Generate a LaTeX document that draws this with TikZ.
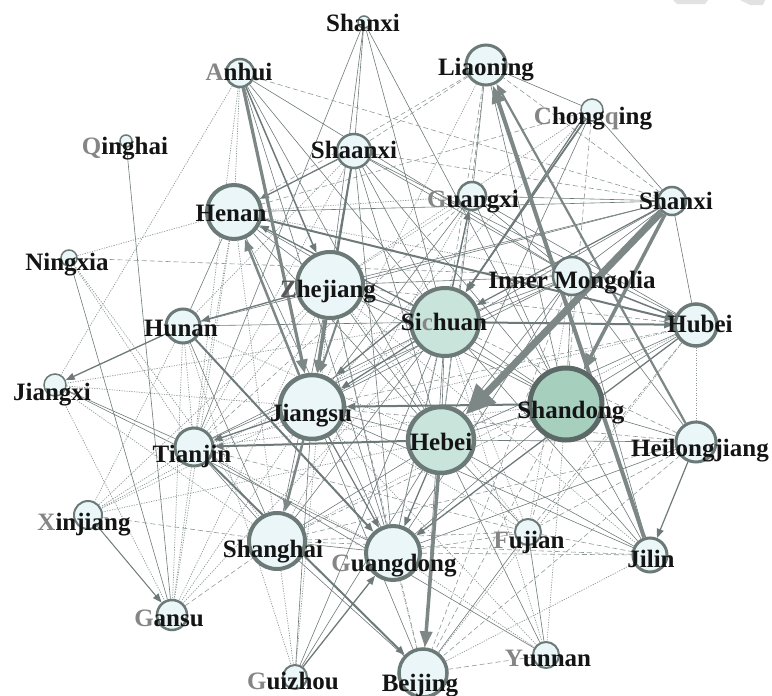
\documentclass[tikz,border=0pt]{standalone}
\usepackage{fontspec}
\setmainfont{Liberation Serif}
\usetikzlibrary{arrows.meta}
\definecolor{ec}{HTML}{6E7A79}
\definecolor{ecl}{HTML}{8F9898}
\definecolor{nb}{HTML}{6B7A77}
\definecolor{nf}{HTML}{EAF6F8}
\definecolor{gf}{HTML}{C9E4DA}
\definecolor{sf}{HTML}{A7CFBE}
\definecolor{lg}{HTML}{858585}
\definecolor{wm}{HTML}{E2E2E2}
\pgfdeclarelayer{bg}
\pgfsetlayers{bg,main}
\newcommand{\gl}[1]{\textcolor{lg}{#1}}
\begin{document}
\begin{tikzpicture}[x=1pt,y=-1pt,
 prov/.style={circle,draw=nb,fill=nf,inner sep=0pt},
 lbl/.style={anchor=base,inner sep=0pt,text=black!92,font=\fontsize{25}{30}\selectfont\bfseries},
 es/.style={draw=ec,line width=0.6pt},
 ed/.style={draw=ecl,line width=0.6pt,dash pattern=on 5pt off 3pt},
 eo/.style={draw=ecl,line width=0.7pt,dash pattern=on 1.2pt off 1.3pt},
 em/.style={draw=ec,-{Triangle[length=9pt,width=7pt]}},
 et/.style={draw=ec!90!white},
 ]
\useasboundingbox (0,0) rectangle (772,696);

% provinces
\node[prov,minimum size=12,line width=1.5] (sx) at (364,22) {};
\node[prov,minimum size=28,line width=2.5] (ah) at (240,73) {};
\node[prov,minimum size=12,line width=1.5] (qh) at (126,141) {};
\node[prov,minimum size=34,line width=2.5] (sa) at (354,151) {};
\node[prov,minimum size=54,line width=4] (hn) at (234,212) {};
\node[prov,minimum size=16,line width=1.5] (nx) at (69,258) {};
\node[prov,minimum size=66,line width=4] (zj) at (330,285) {};
\node[prov,minimum size=34,line width=3] (hun) at (183,326) {};
\node[prov,minimum size=40,line width=3] (ln) at (486,65) {};
\node[prov,minimum size=22,line width=1.5] (cq) at (592,110) {};
\node[prov,minimum size=28,line width=2.5] (gx) at (472,196) {};
\node[prov,minimum size=28,line width=2.5] (sxr) at (672,201) {};
\node[prov,minimum size=38,line width=2.5] (im) at (572,276) {};
\node[prov,minimum size=68,line width=4,fill=gf] (sc) at (445,322) {};
\node[prov,minimum size=42,line width=3.5] (hb) at (696,325) {};
\node[prov,minimum size=22,line width=1.5] (jx) at (55,385) {};
\node[prov,minimum size=64,line width=4.5] (js) at (312,407) {};
\node[prov,minimum size=38,line width=3] (tj) at (194,447) {};
\node[prov,minimum size=66,line width=4.5,fill=gf] (heb) at (441,440) {};
\node[prov,minimum size=72,line width=5,fill=sf,draw=nb!85!black] (sd) at (566,404) {};
\node[prov,minimum size=40,line width=3] (hlj) at (696,442) {};
\node[prov,minimum size=28,line width=2] (xj) at (88,515) {};
\node[prov,minimum size=30,line width=2.5] (gs) at (172,615) {};
\node[prov,minimum size=56,line width=4] (sh) at (277,541) {};
\node[prov,minimum size=54,line width=4] (gd) at (393,553) {};
\node[prov,minimum size=26,line width=2] (fj) at (528,532) {};
\node[prov,minimum size=34,line width=3] (jl) at (650,555) {};
\node[prov,minimum size=24,line width=2] (gz) at (295,677) {};
\node[prov,minimum size=26,line width=2] (yn) at (546,655) {};
\node[prov,minimum size=48,line width=3.5] (bj) at (423,673) {};

\begin{pgfonlayer}{bg}
\fill[white] (0,0) rectangle (772,696);
\fill[wm] (673,0) -- (708,0) -- (705,4) -- (677,4) -- cycle;
\fill[wm] (740,0) -- (765,0) -- (763,5) -- (750,5) -- cycle;
\foreach \a/\b in {sx/sa,sx/sd,sx/zj,sx/sc,sx/tj,ah/sc,ah/heb,ah/gd,ah/im,qh/gs,nx/gs,
 hn/zj,hn/hun,hn/gd,hn/heb,hn/sd,hn/sxr,sa/zj,sa/sc,sa/heb,sa/gd,sa/im,sa/hb,sa/sd,
 zj/heb,zj/sd,zj/gd,zj/sh,zj/im,hun/sc,hun/sh,ln/gx,ln/cq,ln/sd,cq/heb,cq/sxr,
 gx/sc,gx/heb,gx/js,gx/hb,gx/sd,gx/im,sxr/im,sxr/hb,sxr/zj,sxr/js,sxr/hun,sxr/gx,
 im/sc,im/heb,im/sd,im/js,im/gd,im/tj,im/hlj,im/jl,sc/heb,sc/sd,sc/gd,sc/sh,sc/tj,
 sc/bj,sc/jl,sc/gz,hb/heb,hb/sd,jx/tj,jx/gd,js/heb,js/bj,js/gz,js/jl,tj/sh,tj/yn,
 heb/sd,heb/sh,heb/fj,heb/jl,heb/hlj,heb/yn,heb/gz,sd/gd,sd/jl,sd/hlj,hlj/gd,sh/gd,
 sh/bj,fj/yn,fj/bj}
 \draw[es] (\a) -- (\b);
\foreach \a/\b in {ah/sxr,nx/im,zj/bj,zj/hb,ln/sc,ln/heb,ln/hn,ln/sa,cq/hn,cq/sd,gx/tj,
 sxr/ln,sxr/sa,im/bj,sc/hlj,hb/js,hb/fj,js/hlj,tj/fj,sd/sh,sd/fj,sd/bj,hlj/bj,hlj/fj,
 hlj/sh,xj/sh,gs/sh,sh/fj,sh/jl,gd/fj,gd/jl,fj/jl,yn/bj}
 \draw[ed] (\a) -- (\b);
\foreach \a/\b in {ah/hn,ah/tj,ah/jx,nx/tj,nx/hn,nx/sh,hn/tj,hn/gs,hn/sh,hn/im,hn/gx,
 sa/tj,sa/hun,zj/tj,zj/gx,zj/xj,zj/gs,zj/fj,zj/jl,hun/tj,hun/gs,hun/xj,hun/heb,hun/gz,
 ln/js,cq/js,cq/zj,gx/gd,gx/sh,im/fj,sc/fj,sc/xj,sc/gs,sc/jx,sc/yn,hb/tj,hb/sh,hb/bj,
 hb/hlj,jx/sh,jx/gs,jx/js,js/xj,js/gs,js/fj,js/yn,tj/sd,tj/gd,tj/xj,tj/gs,heb/xj,
 sd/yn,sh/gz,gd/bj,gd/yn,jl/bj,gz/zj}
 \draw[eo] (\a) -- (\b);
% medium arrows
\draw[em,line width=2pt] (sc) -- (hb);
\draw[em,line width=2pt] (sd) -- (js);
\draw[em,line width=2pt] (heb) -- (tj);
\draw[em,line width=2pt] (hn) -- (hb);
\draw[em,line width=1.3pt] (hun) -- (jx);
\draw[em,line width=2pt] (hun) -- (gd);
\draw[em,line width=2pt] (tj) -- (bj);
\draw[em,line width=1.3pt] (gz) -- (gd);
\draw[em,line width=1.8pt] (cq) -- (sc);
\draw[em,line width=1.2pt] ([shift={(-5,2)}]cq.center) -- ([shift={(-3,-6)}]sc.north east);
\draw[em,line width=2pt] (sa) -- (js);
\draw[em,line width=1.3pt] (zj) -- (hun);
\draw[em,line width=1.3pt] (sc) -- (js);
\draw[em,line width=1.3pt] ([shift={(0,-6)}]sc.west) -- ([shift={(0,-8)}]js.north east);
\draw[em,line width=1.3pt] (js) -- (tj);
\draw[em,line width=1.5pt] (im) -- (hb);
\draw[em,line width=1.2pt] (sxr) -- (sc);
\draw[em,line width=1.2pt] (hlj) -- (jl);
\draw[em,line width=1pt] (xj) -- (gs);
\draw[em,line width=1.3pt] (sa) -- (hn);
\draw[em,line width=1.3pt] (sc) -- (hn);
\draw[em,line width=1.3pt] (sc) -- (gx);
\draw[em,line width=1.3pt] (hb) -- (gd);
\draw[em,line width=1.3pt] (heb) -- (gd);
\draw[em,line width=1.2pt] (js) -- (gd);
\draw[em,line width=1.2pt] (sc) -- (zj);
\draw[em,line width=1.5pt] (ah) -- (zj);
% heavy arrows
\draw[et,line width=7pt,-{Triangle[length=30pt,width=26pt]}] (sxr) -- (heb);
\draw[et,line width=3.5pt,-{Triangle[length=16pt,width=12pt]}] (sxr) -- (sd);
\draw[et,line width=4pt,-{Triangle[length=18pt,width=13pt]}] (jl) -- (ln);
\draw[et,line width=2.2pt,-{Triangle[length=12pt,width=9pt]}] (hlj) -- (ln);
\draw[et,line width=3.5pt,-{Triangle[length=16pt,width=12pt]}] (heb) -- (bj);
\draw[et,line width=3.2pt,-{Triangle[length=14pt,width=11pt]}] (ah) -- (js);
\draw[et,line width=3pt,-{Triangle[length=13pt,width=10pt]}] (zj) -- (js);
\draw[et,line width=2pt,-{Triangle[length=10pt,width=8pt]}] ([xshift=8]zj.south) -- ([xshift=8]js.north);
\draw[et,line width=2.5pt,-{Triangle[length=12pt,width=9pt]}] (js) -- (hn);
\draw[et,line width=2.5pt,-{Triangle[length=12pt,width=9pt]}] (js) -- (sh);
\end{pgfonlayer}

% labels
\node[lbl] (Lsx) at (363,31) {Shanxi};
\node[lbl] (Lah) at (239,80) {\gl{A}nhui};
\node[lbl] (Lqh) at (125,154) {\gl{Q}inghai};
\node[lbl] (Lsa) at (354,158) {Shaanxi};
\node[lbl] (Lhn) at (231,221) {Henan};
\node[lbl] (Lnx) at (67,270) {Ningxia};
\node[lbl] (Lzj) at (328,297) {\textcolor{black!65}{Z}hejiang};
\node[lbl] (Lhun) at (181,336) {Hunan};
\node[lbl] (Lln) at (486,75) {Liaoning};
\node[lbl] (Lcq) at (593,124) {\gl{C}hong\gl{q}ing};
\node[lbl] (Lgx) at (473,207) {\gl{G}uangxi};
\node[lbl] (Lsxr) at (676,209) {Shanxi};
\node[lbl] (Lim) at (572,288) {Inner Mongolia};
\node[lbl] (Lsc) at (444,330) {Si\gl{c}huan};
\node[lbl] (Lhb) at (700,332) {Hubei};
\node[lbl] (Ljx) at (52,400) {Jiangxi};
\node[lbl] (Ljs) at (311,421) {Jiangsu};
\node[lbl] (Ltj) at (192,462) {Tianjin};
\node[lbl] (Lheb) at (441,450) {Hebei};
\node[lbl] (Lsd) at (571,418) {Shandong};
\node[lbl] (Lhlj) at (700,456) {Heilongjiang};
\node[lbl] (Lxj) at (84,530) {\gl{X}injiang};
\node[lbl] (Lgs) at (169,626) {\gl{G}ansu};
\node[lbl] (Lsh) at (273,557) {Shanghai};
\node[lbl] (Lgd) at (394,571) {\gl{G}uangdong};
\node[lbl] (Lfj) at (529,548) {\gl{F}ujian};
\node[lbl] (Ljl) at (651,567) {Jilin};
\node[lbl] (Lgz) at (293,689) {\gl{G}uizhou};
\node[lbl] (Lyn) at (548,666) {\gl{Y}unnan};
\node[lbl] (Lbj) at (420,691) {Beijing};
\end{tikzpicture}
\end{document}
